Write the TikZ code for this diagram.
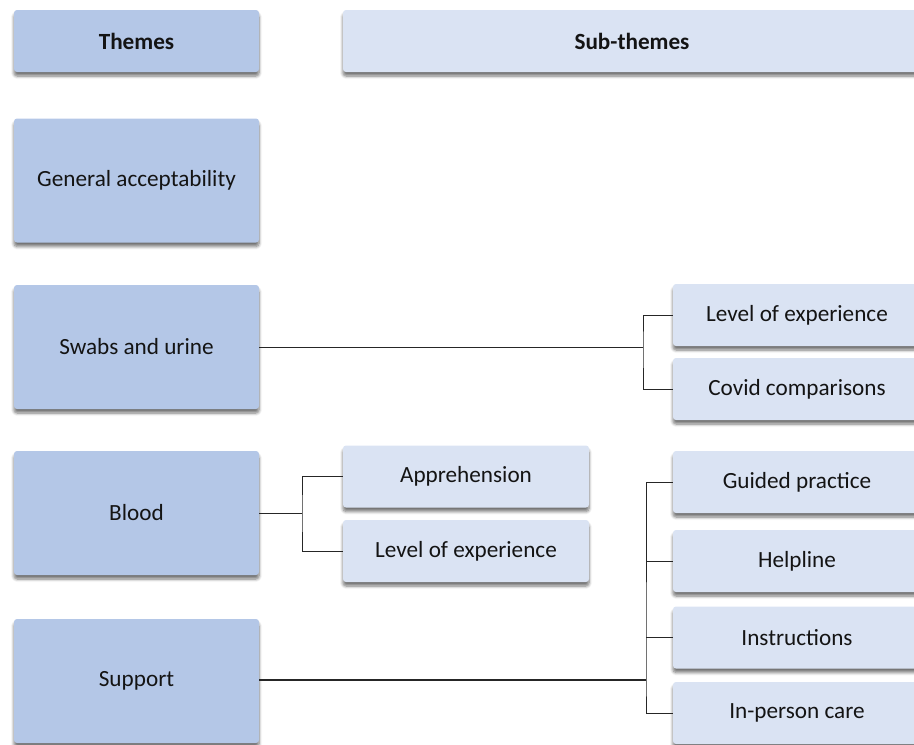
\documentclass[tikz,border=0pt]{standalone}
\usepackage{fontspec}
\setmainfont{Carlito}
\usetikzlibrary{shadows.blur}

\definecolor{themefill}{HTML}{B4C7E7}
\definecolor{subfill}{HTML}{DAE3F3}
\definecolor{inktext}{HTML}{141414}

\tikzset{
  card/.style={rectangle, rounded corners=3pt, draw=none, text=inktext,
    font=\fontsize{23.2}{28}\selectfont, inner sep=0pt,
    blur shadow={shadow xshift=0pt, shadow yshift=-4pt,
      shadow blur steps=6, shadow opacity=55, shadow blur radius=3pt}},
  theme/.style={card, fill=themefill, minimum width=245pt, minimum height=124pt},
  header/.style={card, minimum height=62pt, font=\fontsize{23.2}{28}\selectfont\bfseries},
  sub/.style={card, fill=subfill, minimum height=62pt},
  link/.style={draw=black!85, line width=0.9pt},
  mainlink/.style={draw=black!85, line width=1.6pt}
}

\begin{document}
\begin{tikzpicture}[x=1pt, y=-1pt]
  \useasboundingbox (0,0) rectangle (914,745);
  \clip (0,0) rectangle (914,745);

  % column headings
  \node[header, fill=themefill, minimum width=245pt] (hthemes) at (136.5,41) {Themes};
  \node[header, fill=subfill, minimum width=578pt] (hsub) at (632,41) {Sub-themes};

  % themes
  \node[theme] (general) at (136.5,180.5) {General acceptability};
  \node[theme] (swabs)   at (136.5,347)   {Swabs and urine};
  \node[theme] (blood)   at (136.5,513)   {Blood};
  \node[theme] (support) at (136.5,681)   {Support};

  % sub-themes next to Blood
  \node[sub, minimum width=246pt] (appr) at (466,476.5) {Apprehension};
  \node[sub, minimum width=246pt] (loeb) at (466,551)   {Level of experience};

  % sub-themes in the right column
  \node[sub, minimum width=248pt] (loes)     at (797,315)   {Level of experience};
  \node[sub, minimum width=248pt] (covid)    at (797,389)   {Covid comparisons};
  \node[sub, minimum width=248pt] (guided)   at (797,482)   {Guided practice};
  \node[sub, minimum width=248pt] (helpline) at (797,561)   {Helpline};
  \node[sub, minimum width=248pt] (instr)    at (797,637.5) {Instructions};
  \node[sub, minimum width=248pt] (inperson) at (797,713)   {In-person care};

  % branch points
  \coordinate (busS) at (643,347);
  \coordinate (busB) at (302,513);
  \coordinate (busP) at (646,680);

  % connectors
  \draw[link] (swabs.east) -- (busS);
  \draw[link] (loes.west) -| (busS) |- (covid.west);

  \draw[link] (blood.east) -- (busB);
  \draw[link] (appr.west) -| (busB) |- (loeb.west);

  \draw[mainlink] (support.east |- busP) -- (busP);
  \draw[link] (guided.west) -| (busP) |- (inperson.west);
  \draw[link] (helpline.west) -- (helpline.west -| busP);
  \draw[link] (instr.west) -- (instr.west -| busP);
\end{tikzpicture}
\end{document}
